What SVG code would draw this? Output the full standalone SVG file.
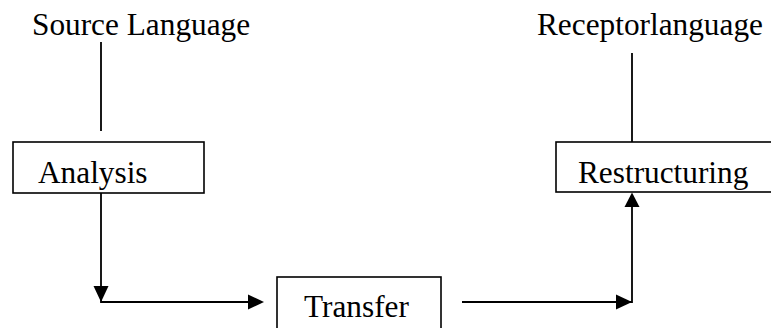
<svg xmlns="http://www.w3.org/2000/svg" width="771" height="328" viewBox="0 0 771 328">
<style>
.t{font-family:"Liberation Serif","Times New Roman",serif;font-size:31.3px;fill:#000}
.box{fill:#fff;stroke:#000;stroke-width:1.6}
.ln{stroke:#000;stroke-width:1.8;fill:none}
.ah{fill:#000}
</style>
<rect width="771" height="328" fill="#fff"/>
<g id="source"><text class="t" x="32" y="35">Source Language</text></g>
<g id="receptor"><text class="t" x="537" y="35">Receptorlanguage</text></g>
<g id="connectors">
<line class="ln" x1="101" y1="42" x2="101" y2="131"/>
<line class="ln" x1="632" y1="53" x2="632" y2="142"/>
<polyline class="ln" points="101,193 101,302 250,302"/>
<polygon class="ah" points="93.5,286 108.5,286 101,302"/>
<polygon class="ah" points="248,294.5 248,309.5 264,302"/>
<polyline class="ln" points="462,302 632,302 632,205"/>
<polygon class="ah" points="616,294.5 616,309.5 632,302"/>
<polygon class="ah" points="624.5,207 639.5,207 632,192.5"/>
</g>
<g id="analysis"><rect class="box" x="13" y="142" width="191" height="51"/><text class="t" x="38" y="183">Analysis</text></g>
<g id="restructuring"><rect class="box" x="556" y="142" width="220" height="50"/><text class="t" x="578" y="183">Restructuring</text></g>
<g id="transfer"><rect class="box" x="277" y="277" width="164" height="60"/><text class="t" x="304" y="317">Transfer</text></g>
</svg>
